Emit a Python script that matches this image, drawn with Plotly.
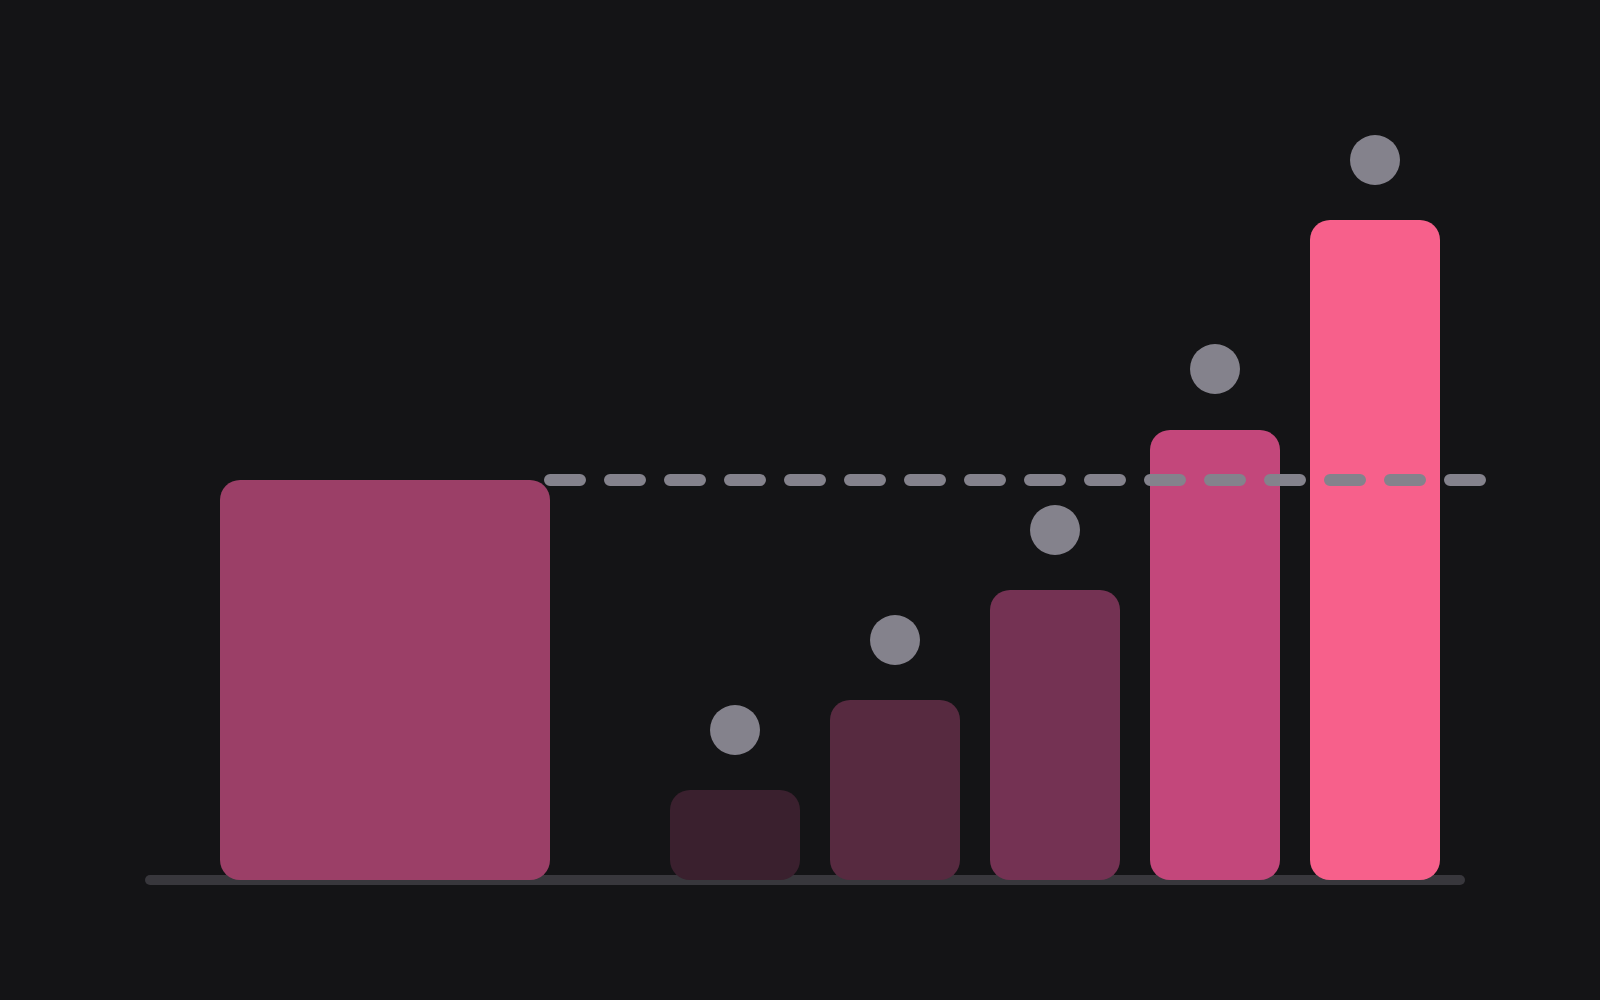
import plotly.graph_objects as go

# values (baseline = 0)
total_label = "Total"
total_value = 100

categories = ["A", "B", "C", "D", "E"]
values = [22.5, 45, 72.5, 112.5, 165]
marker_values = [37.5, 60, 87.5, 127.75, 180]

bar_colors = ["#3A202E", "#572A40", "#743253", "#C3477B", "#F7608B"]
total_color = "#9B3F67"
grey = "#84828C"
bg = "#141416"

# layout in axis units (x axis runs 0..1600)
total_x, total_w = 385, 330
first_x, step, bar_w = 735, 160, 130
xs = [first_x + i * step for i in range(len(categories))]

fig = go.Figure()

# explicit base -> plotly treats the bar as floating and rounds both ends
fig.add_trace(go.Bar(
    x=[total_x], y=[total_value], base=[0], width=[total_w],
    marker=dict(color=total_color, line=dict(width=0), cornerradius=20),
    name=total_label, hoverinfo="skip", showlegend=False,
))
fig.add_trace(go.Bar(
    x=xs, y=values, base=[0] * len(values), width=[bar_w] * len(values),
    marker=dict(color=bar_colors, line=dict(width=0), cornerradius=20),
    text=categories, textposition="none",
    hoverinfo="skip", showlegend=False,
))

# reference line at the total, from the right edge of the total bar
fig.add_trace(go.Scatter(
    x=[total_x + total_w / 2, xs[-1] + 105], y=[total_value, total_value],
    mode="lines", line=dict(color=grey, width=12, dash="30px,30px"),
    hoverinfo="skip", showlegend=False,
))

fig.add_trace(go.Scatter(
    x=xs, y=marker_values, mode="markers",
    marker=dict(size=50, color=grey, line=dict(width=0)),
    hoverinfo="skip", showlegend=False,
))

# baseline
fig.add_shape(type="line", x0=150, x1=1460, y0=0, y1=0, layer="below",
              line=dict(color="#38373C", width=10))

fig.update_layout(
    width=1600, height=1000,
    margin=dict(l=0, r=0, t=0, b=0),
    paper_bgcolor=bg, plot_bgcolor=bg,
    barmode="overlay",
    xaxis=dict(range=[0, 1600], visible=False, fixedrange=True),
    yaxis=dict(range=[-30, 220], visible=False, fixedrange=True),
    font=dict(family="Inter"),
)

page_css = (
    "var s=document.createElement('style');"
    "s.textContent='body{margin:0;background:" + bg + "}"
    ".js-line,.shapelayer path{stroke-linecap:round !important}';"
    "document.head.appendChild(s);"
)

fig.write_html("out.html", post_script=page_css, config={"displayModeBar": False})
